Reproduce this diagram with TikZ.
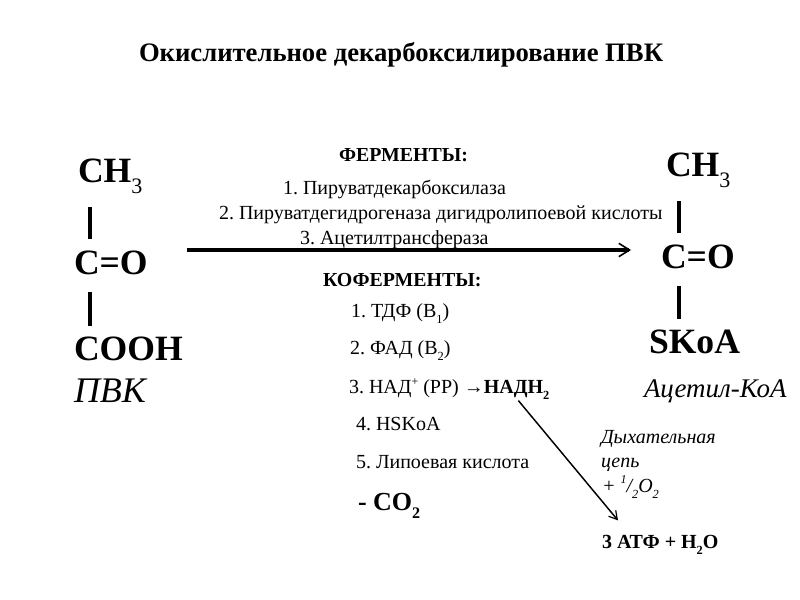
\documentclass[tikz,border=0pt]{standalone}
\usepackage{fontspec}
\setmainfont{Liberation Serif}
\usetikzlibrary{arrows.meta,calc,positioning}
\frenchspacing
\newcommand{\fsz}[1]{\fontsize{#1}{#1}\selectfont}
\newcommand{\sbs}[1]{\raisebox{-0.3em}{\fontsize{0.62em}{0.62em}\selectfont #1}}
\newcommand{\sps}[1]{\raisebox{0.42em}{\fontsize{0.6em}{0.6em}\selectfont #1}}

\begin{document}
\begin{tikzpicture}[
    x=0.75pt,y=-0.75pt,>=Stealth,
    every node/.style={inner sep=0pt,outer sep=0pt,anchor=west},
    pvtitle/.style={font=\fsz{20}\bfseries},
    pvhead/.style={font=\fsz{14.9}\bfseries},
    pvitem/.style={font=\fsz{15}},
    pvchem/.style={font=\fsz{26.7}\bfseries},
    pvname/.style={font=\fsz{27}\itshape},
    pvnote/.style={font=\fsz{15}\itshape},
    pvbond/.style={line width=2.6pt},
    pvmain/.style={line width=2.4pt,-{Straight Barb[length=8pt,width=10pt,line width=1.2pt]}},
    pvside/.style={line width=1.1pt,-{Straight Barb[length=6pt,width=7pt,line width=0.9pt]}}]
  \useasboundingbox (0,0) rectangle (800,600);
  \node[pvtitle] (title) at (139,55) {Окислительное декарбоксилирование ПВК};
  % left column
  \node[pvchem] (ch3a) at (78,176) {CH\sbs{\mdseries 3}};
  \node[pvchem] (coa) at (74,263) {C=O};
  \node[pvchem] (cooh) at (74,349) {COOH};
  \node[pvname] (pvk) at (74,391) {ПВК};
  % right column
  \node[pvchem] (ch3b) at (666,170) {CH\sbs{\mdseries 3}};
  \node[pvchem] (cob) at (661,257) {C=O};
  \node[pvchem] (skoa) at (649,342) {SKoA};
  \node[font=\fsz{20.2}\itshape] (acet) at (644,391) {Ацетил-КоА};
  % enzymes
  \node[pvhead] (ferm) at (339,155) {ФЕРМЕНТЫ:};
  \node[pvitem] (e1) at (283,189) {1. Пируватдекарбоксилаза};
  \node[pvitem] (e2) at (219,215) {2. Пируватдегидрогеназа дигидролипоевой кислоты};
  \node[pvitem] (e3) at (300,240) {3. Ацетилтрансфераза};
  % coenzymes
  \node[pvhead] (koferm) at (323,280) {КОФЕРМЕНТЫ:};
  \node[pvitem] (k1) at (351,314) {1. ТДФ (В\sbs{1})};
  \node[pvitem] (k2) at (350,351) {2. ФАД (В\sbs{2})};
  \node[pvitem] (k3) at (349,389) {3. НАД\sps{+} (РР) →\textbf{НАДН\sbs{2}}};
  \node[pvitem] (k4) at (356,424) {4. HSKoA};
  \node[pvitem] (k5) at (356,462) {5. Липоевая кислота};
  \node[font=\fsz{19.5}\bfseries] (co2) at (358,506) {- CO\sbs{2}};
  % respiratory chain
  \node[pvnote] (dyh) at (601,439) {Дыхательная};
  \node[pvnote] (cep) at (601,465) {цепь};
  \node[pvnote] (oxy) at (602,487) {+ \sps{1}/\sbs{2}O\sbs{2}};
  \node[font=\fsz{15}\bfseries] (atp) at (602,545) {3 АТФ + H\sbs{2}O};
  \coordinate (mainL) at (187,250);
  \coordinate (mainR) at (631,250);
  \draw[pvbond] ($(ch3a.south west)+(12,14)$) -- ($(coa.north west)+(16,-12)$);
  \draw[pvbond] ($(coa.south west)+(16,17)$) -- ($(cooh.north west)+(16,-11)$);
  \draw[pvbond] ($(ch3b.south west)+(13,14)$) -- ($(cob.north west)+(18,-12)$);
  \draw[pvbond] ($(cob.south west)+(18,17)$) -- ($(skoa.north west)+(30,-11)$);
  \draw[pvmain] (mainL) -- (mainR);
  \draw[pvside] ($(k3.south east)+(-31,1)$) -- ($(atp.north west)+(16,-15)$);
\end{tikzpicture}
\end{document}
